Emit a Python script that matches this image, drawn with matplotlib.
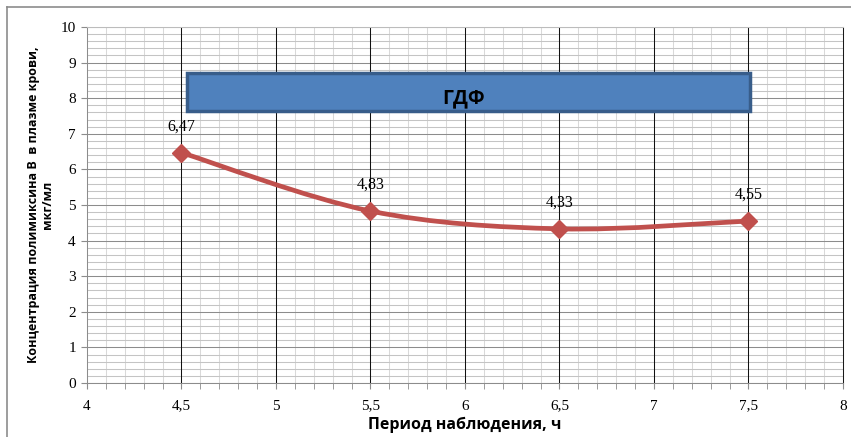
import numpy as np
import matplotlib
matplotlib.use('Agg')
import matplotlib.pyplot as plt
from matplotlib.path import Path
from matplotlib.patches import PathPatch, Rectangle
from matplotlib.lines import Line2D
from matplotlib.ticker import MultipleLocator, FuncFormatter

# observation period, h and concentration, mcg/ml
hours = [4.5, 5.5, 6.5, 7.5]
conc = [6.47, 4.83, 4.33, 4.55]
labels = ['6,47', '4,83', '4,33', '4,55']

x_ticks = [4, 4.5, 5, 5.5, 6, 6.5, 7, 7.5, 8]
y_ticks = list(range(0, 11))

red = '#C0504D'
serif = 'Liberation Serif'
sans = 'Open Sans'

fig = plt.figure(figsize=(8.51, 4.37), dpi=100)
ax = fig.add_axes([0.1022, 0.1236, 0.8884, 0.8146])

ax.set_xlim(4, 8)
ax.set_ylim(0, 10)

# fine grid underneath, heavier lines on top of it
ax.xaxis.set_minor_locator(MultipleLocator(0.1))
ax.yaxis.set_minor_locator(MultipleLocator(0.2))
ax.grid(which='minor', axis='x', color='#d9d9d9', lw=0.75)
ax.grid(which='minor', axis='y', color='#c4c4c4', lw=0.75)
ax.grid(which='major', axis='y', color='#8c8c8c', lw=0.75)
ax.set_axisbelow(True)
for xv in x_ticks[1:-1]:
    ax.axvline(xv, color='#111111', lw=0.75, zorder=1)

fmt = FuncFormatter(lambda v, p: ('%g' % v).replace('.', ','))
ax.set_xticks(x_ticks)
ax.set_yticks(y_ticks)
ax.xaxis.set_major_formatter(fmt)
ax.tick_params(axis='x', which='both', length=4, color='#8c8c8c', pad=8)
ax.tick_params(axis='y', which='major', length=4, color='#8c8c8c', pad=4)
ax.tick_params(axis='y', which='minor', length=0)
for lab in ax.get_xticklabels() + ax.get_yticklabels():
    lab.set_fontfamily(serif)
    lab.set_fontsize(11)

for s in ['left', 'bottom']:
    ax.spines[s].set_color('#8c8c8c')
ax.spines['top'].set_color('#bcbcbc')
ax.spines['right'].set_color('#1a1a1a')
for s in ax.spines.values():
    s.set_linewidth(0.75)

# smoothed line (Bezier through points)
n = len(hours)
pts = np.column_stack([hours, conc])
verts = [pts[0]]
codes = [Path.MOVETO]
for i in range(n - 1):
    p0 = pts[max(i - 1, 0)]
    p1 = pts[i]
    p2 = pts[i + 1]
    p3 = pts[min(i + 2, n - 1)]
    c1 = p1 + (p2 - p0) / 6
    c2 = p2 - (p3 - p1) / 6
    verts += [c1, c2, p2]
    codes += [Path.CURVE4] * 3
ax.add_patch(PathPatch(Path(verts, codes), fill=False, edgecolor=red, lw=3.4,
                       capstyle='round', joinstyle='round', zorder=3))
ax.plot(hours, conc, ls='none', marker='D', ms=9, color=red, mec=red, zorder=4)

for xv, yv, t in zip(hours, conc, labels):
    ax.annotate(t, (xv, yv), xytext=(0, 13), textcoords='offset points',
                ha='center', va='bottom', fontsize=11.5, family=serif)

# title box
ax.add_patch(Rectangle((4.53, 7.65), 2.98, 1.05, facecolor='#4F81BD',
                       edgecolor='#385D8A', lw=2.5, zorder=5))
ax.text(5.99, 8.0, 'ГДФ', ha='center', va='center', fontsize=14,
        fontweight='bold', family=sans, zorder=6)

ax.set_xlabel('Период наблюдения, ч', family=sans, fontweight='bold',
              fontsize=11.5, labelpad=3)
ax.set_ylabel('Концентрация полимиксина В  в плазме крови,\nмкг/мл',
              family=sans, fontweight='bold', fontsize=9, labelpad=5,
              linespacing=1.05)

# chart area border
fig.add_artist(Line2D([0.008, 1.0], [0.984, 0.984], color='#8c8c8c', lw=1.2))
fig.add_artist(Line2D([0.008, 0.008], [0.0, 0.984], color='#8c8c8c', lw=1.2))

fig.savefig('out.png', dpi=100)
